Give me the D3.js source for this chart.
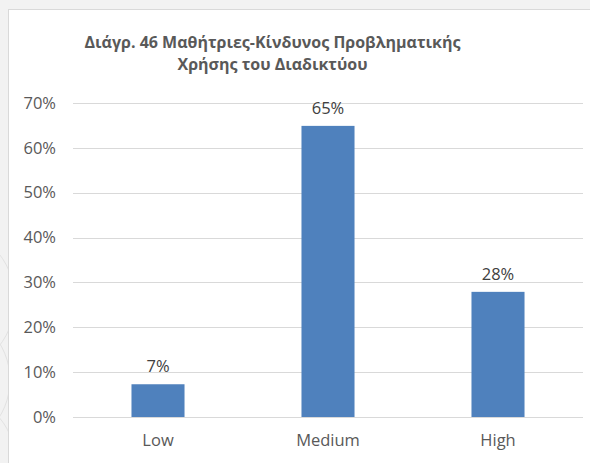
<!DOCTYPE html>
<html><head><meta charset="utf-8">
<script src="https://cdn.jsdelivr.net/npm/d3@7"></script>
<style>html,body{margin:0;padding:0;background:#f2f2f2;overflow:hidden}</style>
</head><body>
<svg id="c" width="590" height="463"></svg>
<script>
const categories = ["Low", "Medium", "High"];
const values = [0.073, 0.649, 0.279];
const yTicks = [0, 0.1, 0.2, 0.3, 0.4, 0.5, 0.6, 0.7];
const titleLines = ["Διάγρ. 46 Μαθήτριες-Κίνδυνος Προβληματικής", "Χρήσης του Διαδικτύου"];

const svg = d3.select("#c");
const font = "'Open Sans', 'Noto Sans', sans-serif";
const txt = "#595959";

// faint decorative arcs in the outer background
const deco = svg.append("g").attr("fill","none").attr("stroke","#e2e2e2").attr("stroke-width",1);
[[ -60, 300, 75],[ -60, 380, 70],[ -50, 460, 65]].forEach(a=>{
  deco.append("circle").attr("cx",a[0]).attr("cy",a[1]).attr("r",a[2]);
});

// chart area
svg.append("rect").attr("x",8.5).attr("y",9.5).attr("width",600).attr("height",470)
  .attr("fill","#fff").attr("stroke","#d9d9d9");

const x = d3.scaleBand().domain(categories).range([73,583]).paddingInner(0.688).paddingOuter(0.344);
const y = d3.scaleLinear().domain([0,0.7]).range([417,103]);

// gridlines
svg.append("g").selectAll("line").data(yTicks).join("line")
  .attr("x1",73).attr("x2",583)
  .attr("y1",d=>Math.round(y(d))+0.5).attr("y2",d=>Math.round(y(d))+0.5)
  .attr("stroke","#d9d9d9").attr("stroke-width",1);

// y axis labels
const yAxis = d3.axisLeft(y).tickValues(yTicks).tickFormat(d3.format(".0%")).tickSize(0).tickPadding(0);
const ga = svg.append("g").attr("transform","translate(56,0)").call(yAxis);
ga.select(".domain").remove();
ga.selectAll("text").attr("font-family",font).attr("font-size",16.5).attr("fill",txt);

// bars
svg.append("g").selectAll("rect").data(values).join("rect")
  .attr("x",(d,i)=>x(categories[i])).attr("width",x.bandwidth())
  .attr("y",d=>y(d)).attr("height",d=>y(0)-y(d))
  .attr("fill","#4f81bd");

// value labels
svg.append("g").selectAll("text").data(values).join("text")
  .attr("x",(d,i)=>x(categories[i])+x.bandwidth()/2)
  .attr("y",d=>y(d)-12)
  .attr("text-anchor","middle").attr("font-family",font).attr("font-size",16.5).attr("fill","#404040")
  .text(d=>d3.format(".0%")(d));

// x axis labels
const xAxis = d3.axisBottom(x).tickSize(0).tickPadding(0);
const gx = svg.append("g").attr("transform","translate(0,434)").call(xAxis);
gx.select(".domain").remove();
gx.selectAll("text").attr("font-family",font).attr("font-size",16.5).attr("fill",txt);

// title
svg.append("g").selectAll("text").data(titleLines).join("text")
  .attr("x",272.5).attr("y",(d,i)=>48+i*22)
  .attr("text-anchor","middle").attr("font-family",font).attr("font-weight","bold")
  .attr("font-size",16).attr("fill",txt).text(d=>d);
</script>
</body></html>
